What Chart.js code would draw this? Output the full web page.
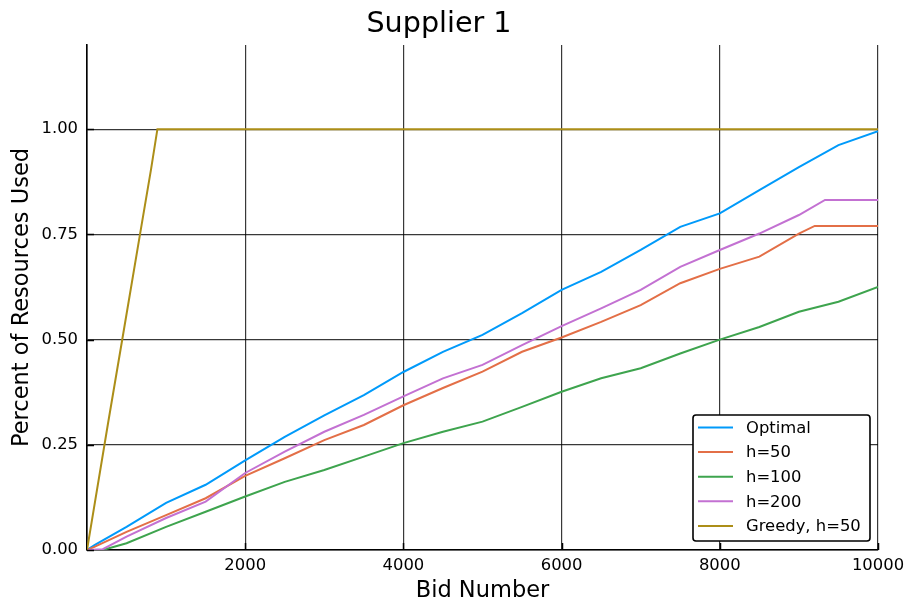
<!DOCTYPE html>
<html>
<head>
<meta charset="utf-8">
<script src="https://cdn.jsdelivr.net/npm/chart.js@4/dist/chart.umd.min.js"></script>
<style>
  html, body { margin: 0; padding: 0; background: #fff; }
  #wrap { width: 907px; height: 608px; }
</style>
</head>
<body>
<div id="wrap"><canvas id="c" width="907" height="608"></canvas></div>
<script>
// Share of supplier 1's resources used as bids arrive, per allocation policy
const seriesNames = ['Optimal', 'h=50', 'h=100', 'h=200', 'Greedy, h=50'];
const seriesColors = ['#009AFA', '#E36F47', '#3EA44E', '#C371D2', '#AC8E18'];

const optimalBids = [0, 100, 500, 1000, 1500, 2000, 2500, 3000, 3500, 4000, 4500, 5000, 5500, 6000, 6500, 7000, 7500, 8000, 8500, 9000, 9500, 10000];
const optimalUsed = [0, 0.012, 0.055, 0.112, 0.155, 0.213, 0.269, 0.320, 0.368, 0.423, 0.471, 0.511, 0.563, 0.618, 0.661, 0.713, 0.768, 0.800, 0.855, 0.910, 0.962, 0.995];

const h50Bids = [0, 100, 500, 1000, 1500, 2000, 2500, 3000, 3500, 4000, 4500, 5000, 5500, 6000, 6500, 7000, 7500, 8000, 8500, 9000, 9200, 10000];
const h50Used = [0, 0.008, 0.043, 0.083, 0.123, 0.176, 0.218, 0.261, 0.297, 0.344, 0.385, 0.424, 0.471, 0.505, 0.542, 0.582, 0.634, 0.668, 0.697, 0.752, 0.770, 0.770];

const h100Bids = [0, 200, 500, 1000, 1500, 2000, 2500, 3000, 3500, 4000, 4500, 5000, 5500, 6000, 6500, 7000, 7500, 8000, 8500, 9000, 9500, 10000];
const h100Used = [0, 0, 0.016, 0.055, 0.091, 0.127, 0.162, 0.190, 0.222, 0.254, 0.281, 0.305, 0.340, 0.376, 0.408, 0.432, 0.467, 0.500, 0.530, 0.566, 0.590, 0.625];

const h200Bids = [0, 200, 500, 1000, 1500, 2000, 2500, 3000, 3500, 4000, 4500, 5000, 5500, 6000, 6500, 7000, 7500, 8000, 8500, 9000, 9330, 10000];
const h200Used = [0, 0.002, 0.032, 0.076, 0.115, 0.183, 0.234, 0.281, 0.321, 0.365, 0.408, 0.440, 0.487, 0.532, 0.574, 0.618, 0.673, 0.713, 0.752, 0.796, 0.832, 0.832];

const greedyBids = [0, 265, 450, 670, 810, 890, 10000];
const greedyUsed = [0, 0.300, 0.505, 0.750, 0.905, 1.000, 1.000];

const xTicks = [2000, 4000, 6000, 8000, 10000];
const yTicks = [0, 0.25, 0.5, 0.75, 1.0];

const FONT = 'DejaVu Sans';

function pairs(xs, ys) { return xs.map((x, i) => ({ x: x, y: ys[i] })); }

const seriesData = [
  pairs(optimalBids, optimalUsed),
  pairs(h50Bids, h50Used),
  pairs(h100Bids, h100Used),
  pairs(h200Bids, h200Used),
  pairs(greedyBids, greedyUsed)
];

const datasets = seriesNames.map((name, i) => ({
  label: name,
  data: seriesData[i],
  borderColor: seriesColors[i],
  backgroundColor: seriesColors[i],
  borderWidth: 2,
  pointRadius: 0,
  tension: 0,
  fill: false,
  order: seriesNames.length - i
}));

// Inward tick marks on both axes plus the boxed legend in the lower right
const decorations = {
  id: 'decorations',
  afterDatasetsDraw(chart) {
    const ctx = chart.ctx;
    const xs = chart.scales.x, ys = chart.scales.y;
    const area = chart.chartArea;
    ctx.save();
    ctx.strokeStyle = '#000';
    ctx.lineWidth = 1.5;
    ctx.beginPath();
    yTicks.forEach(v => {
      const py = Math.round(ys.getPixelForValue(v)) + 0.5;
      ctx.moveTo(area.left, py); ctx.lineTo(area.left + 7, py);
    });
    xTicks.forEach(v => {
      const px = Math.round(xs.getPixelForValue(v)) + 0.5;
      ctx.moveTo(px, area.bottom); ctx.lineTo(px, area.bottom - 7);
    });
    ctx.stroke();

    // legend
    const bx = 693, by = 415, bw = 177, bh = 126, r = 3;
    ctx.beginPath();
    ctx.moveTo(bx + r, by);
    ctx.arcTo(bx + bw, by, bx + bw, by + bh, r);
    ctx.arcTo(bx + bw, by + bh, bx, by + bh, r);
    ctx.arcTo(bx, by + bh, bx, by, r);
    ctx.arcTo(bx, by, bx + bw, by, r);
    ctx.closePath();
    ctx.fillStyle = '#fff';
    ctx.fill();
    ctx.lineWidth = 1.6;
    ctx.strokeStyle = '#000';
    ctx.stroke();

    ctx.font = '16.4px "' + FONT + '"';
    ctx.textBaseline = 'middle';
    ctx.textAlign = 'left';
    chart.data.datasets.forEach((ds, i) => {
      const y = 427.5 + i * 24.6;
      ctx.beginPath();
      ctx.strokeStyle = ds.borderColor;
      ctx.lineWidth = 2;
      ctx.moveTo(698, y); ctx.lineTo(733, y);
      ctx.stroke();
      ctx.fillStyle = '#000';
      ctx.fillText(ds.label, 746, y + 1);
    });
    ctx.restore();
  }
};

new Chart(document.getElementById('c'), {
  type: 'line',
  data: { datasets: datasets },
  options: {
    responsive: false,
    animation: false,
    devicePixelRatio: 1,
    layout: { padding: { left: 0, right: 29, top: 0, bottom: 0 } },
    plugins: {
      legend: { display: false },
      tooltip: { enabled: false },
      title: {
        display: true,
        text: 'Supplier 1',
        color: '#000',
        font: { family: FONT, size: 28.6, weight: 'normal' },
        padding: { top: 7, bottom: 3.7 }
      }
    },
    scales: {
      x: {
        type: 'linear',
        min: 0,
        max: 10000,
        afterFit(s) { s.height = 58; s.paddingLeft = 0; s.paddingRight = 0; },
        afterBuildTicks(s) { s.ticks = [0].concat(xTicks).map(v => ({ value: v })); },
        ticks: {
          color: '#000',
          font: { family: FONT, size: 16.4 },
          padding: 6,
          maxRotation: 0,
          callback: v => (v === 0 ? '' : String(v))
        },
        grid: { color: 'rgba(0,0,0,0.78)', lineWidth: 1.2, drawTicks: false },
        border: { color: '#000', width: 1.6 },
        title: {
          display: true,
          text: 'Bid Number',
          color: '#000',
          font: { family: FONT, size: 22.5 },
          padding: { top: 0, bottom: 3 }
        }
      },
      y: {
        type: 'linear',
        min: 0,
        max: 1.2,
        afterFit(s) { s.width = 87; s.paddingTop = 0; s.paddingBottom = 0; },
        afterBuildTicks(s) { s.ticks = yTicks.map(v => ({ value: v })); },
        ticks: {
          color: '#000',
          font: { family: FONT, size: 16.4 },
          padding: 9,
          callback: v => Number(v).toFixed(2)
        },
        grid: { color: 'rgba(0,0,0,0.78)', lineWidth: 1.2, drawTicks: false },
        border: { color: '#000', width: 1.6 },
        title: {
          display: true,
          text: 'Percent of Resources Used',
          color: '#000',
          font: { family: FONT, size: 22.5 },
          padding: { top: 9, bottom: 0 }
        }
      }
    }
  },
  plugins: [decorations]
});
</script>
</body>
</html>
